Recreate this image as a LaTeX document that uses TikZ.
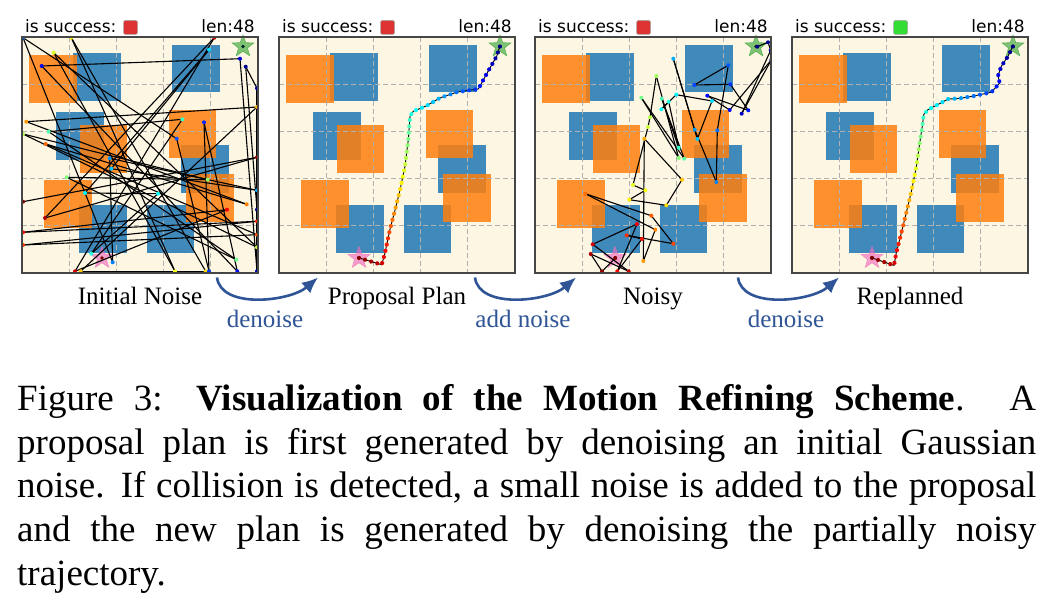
\documentclass[tikz,border=0pt]{standalone}
\usepackage{fontspec}
\setmainfont{Liberation Serif}
\newfontfamily\plotfont{DejaVu Sans}
\usetikzlibrary{arrows.meta,shapes.geometric,decorations.markings}

\definecolor{bgc}{HTML}{FDF6E3}
\definecolor{obsblue}{HTML}{1F77B4}
\definecolor{obsorange}{HTML}{FF7F0E}
\definecolor{gridc}{HTML}{B0B0B0}
\definecolor{framec}{RGB}{70,70,70}
\definecolor{flowblue}{RGB}{47,85,151}
\definecolor{failred}{RGB}{221,51,51}
\definecolor{okgreen}{RGB}{51,221,51}
\definecolor{goalgreen}{RGB}{44,160,44}
\definecolor{startpink}{RGB}{240,110,190}

\newcount\mkcnt
\newcommand{\jetcolor}[2]{%
  \pgfmathsetmacro\jt{1-(#1)/(#2)}%
  \pgfmathsetmacro\jr{max(0,min(1,1.5-abs(4*\jt-3)))}%
  \pgfmathsetmacro\jg{max(0,min(1,1.5-abs(4*\jt-2)))}%
  \pgfmathsetmacro\jb{max(0,min(1,1.5-abs(4*\jt-1)))}%
  \definecolor{dc}{rgb}{\jr,\jg,\jb}}

\tikzset{
  gridline/.style={gridc, line width=0.9pt, dash pattern=on 5pt off 3pt},
  frameline/.style={draw=framec, line width=1.2pt},
  trajline/.style={black, line width=1.1pt},
  dotsalong/.style={postaction={decorate, decoration={markings,
      mark=between positions 0 and 1 step 0.02127 with {\global\advance\mkcnt by 1
        \jetcolor{\the\mkcnt-1}{47}\fill[dc] (0,0) circle (2.1pt);}}}},
  goalstar/.style={star, star points=5, star point ratio=2.4, minimum size=23pt,
      inner sep=0pt, fill=goalgreen, fill opacity=0.6, draw=goalgreen, draw opacity=0.7, line width=0.5pt},
  startstar/.style={star, star points=5, star point ratio=2.4, minimum size=23pt,
      inner sep=0pt, fill=startpink, fill opacity=0.65, draw=startpink, draw opacity=0.7, line width=0.5pt},
  titletext/.style={font=\plotfont\fontsize{17}{20}\selectfont, inner sep=0pt, text=black},
  flagbox/.style={rectangle, rounded corners=1.5pt, minimum size=14pt, inner sep=0pt, draw=black!35, line width=0.5pt},
  panellabel/.style={font=\fontsize{25}{30}\selectfont, inner sep=0pt, anchor=base},
  flowlabel/.style={font=\fontsize{25}{30}\selectfont, inner sep=0pt, anchor=base, text=flowblue},
  flow/.style={flowblue, line width=2.6pt, -{Latex[length=16pt,width=14pt]}},
  captionline/.style={font=\fontsize{37}{44}\selectfont, inner sep=0pt, anchor=base west},
}

\newcommand{\panelenv}{%
  \fill[bgc] (0,0) rectangle (236,236);
  \foreach \cx/\cy in {74.8/39.7, 174.3/31.5, 57.8/99, 182.9/132, 81.3/191.7, 148.6/192.1}
    {\fill[obsblue, opacity=0.85] (\cx-23.85,\cy-23.85) rectangle ++(47.7,47.7);}
  \foreach \cx/\cy in {30.9/41.7, 81.4/112.3, 170.4/97, 187.7/160.7, 46/167.3}
    {\fill[obsorange, opacity=0.85] (\cx-23.85,\cy-23.85) rectangle ++(47.7,47.7);}
  \foreach \g in {47.2,94.4,141.6,188.8} {
    \draw[gridline] (\g,0) -- (\g,236);
    \draw[gridline] (0,\g) -- (236,\g);}
}

\newcommand{\panelstars}[1]{%
  \node[goalstar] (#1goal) at (221,9.5) {};
  \node[startstar] (#1start) at (80,221) {};
  \fill[black!70!teal] (#1goal.center) circle (1.8);
  \fill[black!50!red] (#1start.center) circle (1.8);
}

\newcommand{\paneltitle}[2]{%
  \node[titletext, anchor=base west] (#1ttl) at (3,-4) {is success:};
  \node[flagbox, fill=#2] (#1flag) at (108.5,-9.5) {};
  \node[titletext, anchor=base east] (#1len) at (233,-4) {len:48};
}

\newcommand{\noisetraj}[2]{%
  \foreach \px/\py [count=\ii from 0, remember=\px as \qx (initially 0), remember=\py as \qy (initially 0)] in {#2} {%
    \ifnum\ii>0 \draw[trajline] (\qx,\qy) -- (\px,\py);\fi}%
  \foreach \px/\py [count=\ii from 0] in {#2} {%
    \jetcolor{\ii}{#1}\fill[dc] (\px,\py) circle (2);}%
}

\begin{document}
\begin{tikzpicture}[x=1pt,y=-1pt]
\useasboundingbox (0,0) rectangle (1053,609);
\fill[white] (0,0) rectangle (1053,609);

% ---------- Panel 1: Initial Noise ----------
\begin{scope}[shift={(22,37)}]
  \panelenv
  \panelstars{p1}
  \begin{scope}
    \clip (0,0) rectangle (236,236);
    \noisetraj{44}{1/164.7, 235/120.3, 23/181, 192.3/0.7, 53/234.3, 205/172.7, 1/195.3, 235/184.3, 1/208, 235/197.7, 23.7/107, 224.7/167.3, 4.3/84.7, 235/70, 58.7/234.3, 183.7/234.3, 49.3/0.7, 153/234.3, 31.7/15.7, 235/210.3, 1/97, 185.7/142.7, 44.7/140.3, 214.3/222.7, 26.7/94.7, 160.3/82.3, 69.3/216.7, 136/156.7, 63/156, 187/12.7, 89.3/131.7, 235/153.3, 87.7/121.3, 90.7/225.3, 1/0.7, 154.7/101.7, 187/234.3, 182/85.3, 215.3/234.3, 19.7/29, 218/21.7, 235/234.3, 235/51.3, 223.7/29.7, 235/172.7}
  \end{scope}
  \draw[frameline] (0,0) rectangle (236,236);
  \paneltitle{p1}{failred}
\end{scope}

% ---------- Panel 2: Proposal Plan ----------
\begin{scope}[shift={(279,37)}]
  \panelenv
  \panelstars{p2}
  \global\mkcnt=0
  \draw[trajline, line width=0.9pt, dotsalong] (80.0,220.9) -- (102.7,227.7) -- (106.0,215.9) -- (110.9,192.6) -- (116.1,172.8) -- (121.1,152.7) -- (126.0,129.3) -- (129.3,102.7) -- (131.0,79.3) -- (134.3,74.3) -- (147.7,68.7) -- (161.0,60.9) -- (177.7,55.2) -- (199.4,51.9) -- (204.4,42.7) -- (211.0,30.9) -- (217.6,19.4) -- (220.9,9.4);
  \draw[frameline] (0,0) rectangle (236,236);
  \paneltitle{p2}{failred}
\end{scope}

% ---------- Panel 3: Noisy ----------
\begin{scope}[shift={(535,37)}]
  \panelenv
  \panelstars{p3}
  \begin{scope}
    \clip (0,0) rectangle (236,236);
    \noisetraj{47}{80.3/221, 67/234.3, 55.7/217, 93.7/234.3, 57.7/207.3, 102/187, 82.3/234.3, 107/202, 91.7/198.3, 138.3/206.7, 116.3/178.7, 50.3/156.7, 120.3/192.7, 108.3/224, 109.3/101.7, 147/142.7, 131.3/168.3, 94.3/162.7, 110.3/153.3, 98/148, 113/90, 115/80.3, 121.3/39, 143.7/121, 106.3/60.7, 149.3/121.7, 126.7/61.7, 143.7/110.7, 133.7/64.7, 126.3/72.3, 141.3/57.7, 177/64, 162.3/102, 138.3/21.7, 159.7/92.7, 181.3/145, 182.3/93.3, 193.3/28.3, 159.3/48, 195.3/47.3, 213.3/73.3, 172.3/58.7, 194.7/73, 236.3/23, 206.7/76.7, 235.7/13.3, 233/5.3, 222.3/9.7}
  \end{scope}
  \draw[frameline] (0,0) rectangle (236,236);
  \paneltitle{p3}{failred}
\end{scope}

% ---------- Panel 4: Replanned ----------
\begin{scope}[shift={(792,37)}]
  \panelenv
  \panelstars{p4}
  \global\mkcnt=0
  \draw[trajline, line width=0.9pt, dotsalong] (80.0,220.9) -- (102.0,228.4) -- (104.3,215.9) -- (109.3,196.1) -- (114.2,176.1) -- (119.4,154.3) -- (124.4,129.3) -- (127.7,106.0) -- (130.3,89.4) -- (131.7,77.6) -- (135.9,72.7) -- (147.7,66.6) -- (156.0,62.1) -- (167.6,61.4) -- (181.0,59.2) -- (199.4,55.2) -- (207.7,46.0) -- (206.0,38.7) -- (209.3,29.3) -- (215.9,19.4) -- (220.9,9.4);
  \draw[frameline] (0,0) rectangle (236,236);
  \paneltitle{p4}{okgreen}
\end{scope}

% ---------- panel labels ----------
\node[panellabel] (lab1) at (140,305) {Initial Noise};
\node[panellabel] (lab2) at (397,305) {Proposal Plan};
\node[panellabel] (lab3) at (653,305) {Noisy};
\node[panellabel] (lab4) at (910,305) {Replanned};

% ---------- transition arrows ----------
\coordinate (a1s) at (217,277.5);  \coordinate (a1e) at (318,277.5);
\coordinate (a2s) at (475,277.5);  \coordinate (a2e) at (576,277.5);
\coordinate (a3s) at (738,277.5);  \coordinate (a3e) at (839,277.5);
\draw[flow] (a1s) .. controls +(4,32) and +(-28,24) .. (a1e);
\draw[flow] (a2s) .. controls +(4,32) and +(-28,24) .. (a2e);
\draw[flow] (a3s) .. controls +(4,32) and +(-28,24) .. (a3e);
\node[flowlabel] (f1) at (265,328) {denoise};
\node[flowlabel] (f2) at (523,328) {add noise};
\node[flowlabel] (f3) at (786,328) {denoise};

% ---------- caption ----------
\node[captionline] (cap1) at (17,410.5) {\makebox[1019pt][s]{Figure 3: \textbf{Visualization of the Motion Refining Scheme}. A}};
\node[captionline] (cap2) at (17,454.1) {\makebox[1019pt][s]{proposal plan is first generated by denoising an initial Gaussian}};
\node[captionline] (cap3) at (17,497.8) {\makebox[1019pt][s]{noise. If collision is detected, a small noise is added to the proposal}};
\node[captionline] (cap4) at (17,541.4) {\makebox[1019pt][s]{and the new plan is generated by denoising the partially noisy}};
\node[captionline] (cap5) at (17,585) {trajectory.};
\end{tikzpicture}
\end{document}
